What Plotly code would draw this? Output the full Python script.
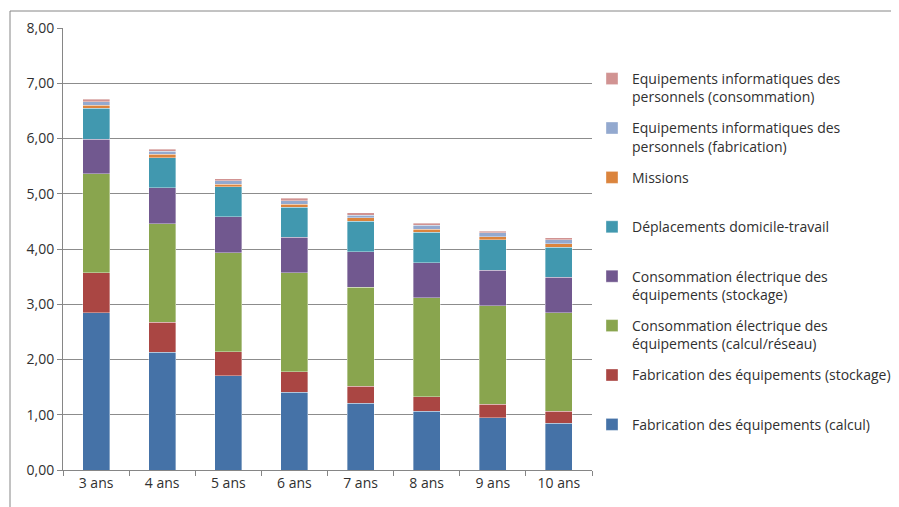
import plotly.graph_objects as go

categories = ["3 ans", "4 ans", "5 ans", "6 ans", "7 ans", "8 ans", "9 ans", "10 ans"]

fab_calcul = [2.85, 2.13, 1.71, 1.41, 1.21, 1.06, 0.95, 0.845]
fab_stockage = [0.72, 0.54, 0.43, 0.37, 0.31, 0.265, 0.24, 0.215]
conso_calcul = [1.79, 1.79, 1.79, 1.79, 1.79, 1.79, 1.785, 1.785]
conso_stockage = [0.63, 0.645, 0.65, 0.64, 0.64, 0.635, 0.64, 0.64]
deplacements = [0.56, 0.55, 0.545, 0.545, 0.55, 0.555, 0.55, 0.545]
missions = [0.055, 0.06, 0.05, 0.055, 0.065, 0.055, 0.055, 0.065]
equip_fab = [0.06, 0.055, 0.06, 0.06, 0.05, 0.07, 0.07, 0.07]
equip_conso = [0.045, 0.04, 0.04, 0.05, 0.04, 0.04, 0.035, 0.035]

y_ticks = [0, 1, 2, 3, 4, 5, 6, 7, 8]

series = [
    ("Fabrication des équipements (calcul)<br> ", fab_calcul, "#4572A7"),
    ("Fabrication des équipements (stockage)<br> ", fab_stockage, "#AA4643"),
    ("Consommation électrique des<br>équipements (calcul/réseau)", conso_calcul, "#89A54E"),
    ("Consommation électrique des<br>équipements (stockage)", conso_stockage, "#71588F"),
    ("Déplacements domicile-travail<br> ", deplacements, "#4198AF"),
    ("Missions<br> ", missions, "#DB843D"),
    ("Equipements informatiques des<br>personnels (fabrication)", equip_fab, "#93A9CF"),
    ("Equipements informatiques des<br>personnels (consommation)", equip_conso, "#D19392"),
]

fig = go.Figure()
n = len(series)
for i, (name, vals, color) in enumerate(series):
    fig.add_trace(go.Bar(
        x=categories, y=vals, name=name, legendgroup=f"g{i}",
        legendrank=n - i,
        marker=dict(color=color, line=dict(color="rgba(255,255,255,0.6)", width=0.6)),
    ))

# page body has an 8px margin: work in screen pixels, shifted by OFF
OFF = 8
W, H = 899 - OFF, 507 - OFF
L, T = 63 - OFF, 28 - OFF
R = W - (592 - OFF)
B = H - (470 - OFF)
pw, ph = W - L - R, H - T - B

def px_x(p):
    return (p - OFF - L) / pw

def px_y(p):
    return (H - B - (p - OFF)) / ph

fig.update_layout(
    width=W, height=H,
    margin=dict(l=L, r=R, t=T, b=B, autoexpand=False),
    barmode="stack",
    bargap=0.59,
    plot_bgcolor="white",
    paper_bgcolor="white",
    separators=", ",
    font=dict(family="Open Sans", size=14, color="#303030"),
    xaxis=dict(
        showgrid=False,
        showline=True, linecolor="#868686", linewidth=1,
        ticks="outside", tickson="boundaries", ticklen=5, tickcolor="#868686",
        tickfont=dict(size=14, color="#303030"),
    ),
    yaxis=dict(
        range=[0, 8], tickvals=y_ticks, tickformat=".2f",
        showgrid=True, gridcolor="#8c8c8c", gridwidth=1,
        showline=True, linecolor="#868686", linewidth=1,
        ticks="outside", ticklen=5, tickcolor="#868686",
        zeroline=False,
        tickfont=dict(size=14, color="#303030"),
    ),
    legend=dict(
        xref="container", yref="container",
        x=(592 - OFF) / W, y=1 - (63 - OFF) / H, xanchor="left", yanchor="top",
        traceorder="grouped", tracegroupgap=10, maxheight=440,
        valign="top", font=dict(size=14, color="#303030"),
        bgcolor="rgba(0,0,0,0)",
    ),
    shapes=[
        dict(type="line", xref="paper", yref="paper",
             x0=px_x(10), x1=px_x(899), y0=px_y(11), y1=px_y(11),
             line=dict(color="#868686", width=1)),
        dict(type="line", xref="paper", yref="paper",
             x0=px_x(10), x1=px_x(10), y0=px_y(11), y1=px_y(507),
             line=dict(color="#868686", width=1)),
    ],
)

fig.write_html("out.html")
